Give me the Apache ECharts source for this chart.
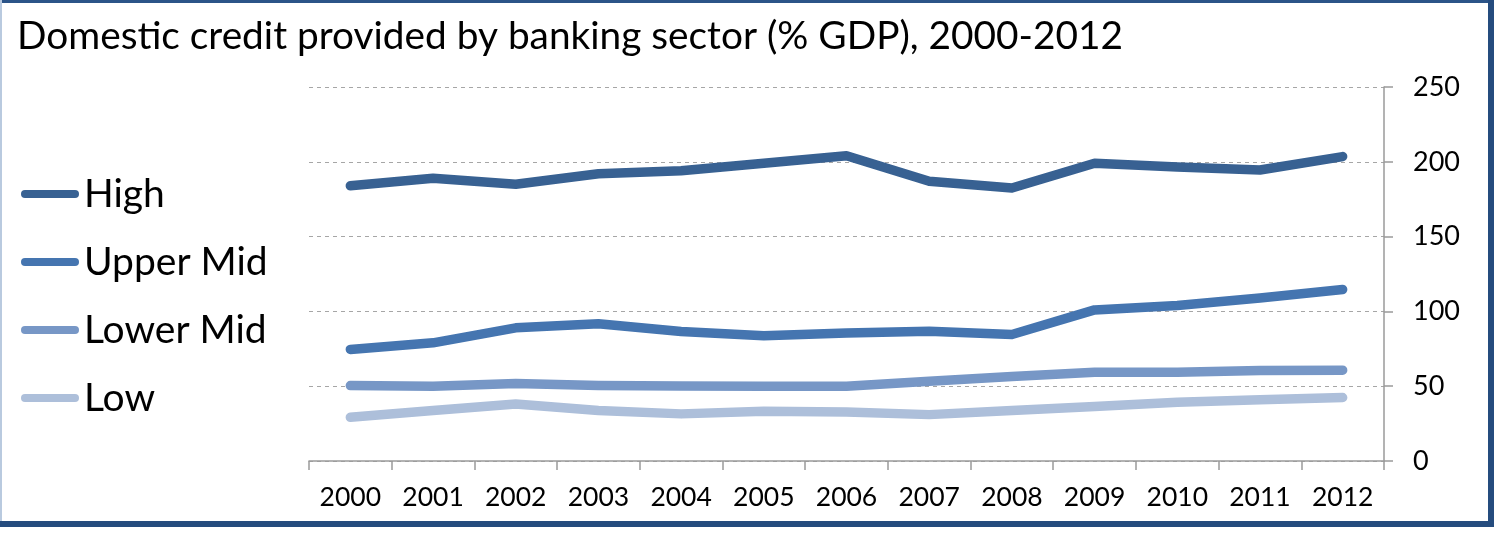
<!DOCTYPE html>
<html>
<head>
<meta charset="utf-8">
<style>
  html, body { margin: 0; padding: 0; background: #ffffff; }
  #chart { width: 1499px; height: 534px; }
</style>
<script src="https://cdn.jsdelivr.net/npm/echarts@6/dist/echarts.min.js"></script>
</head>
<body>
<div id="chart"></div>
<script>
// Domestic credit provided by banking sector (% of GDP), by income group
const years = ['2000', '2001', '2002', '2003', '2004', '2005', '2006', '2007', '2008', '2009', '2010', '2011', '2012'];
const high      = [184, 189, 185, 192, 194, 199, 204, 187, 182.5, 199, 196.5, 194.5, 203.5];
const upperMid  = [74.6, 79, 89, 91.7, 86.6, 83.7, 85.5, 86.8, 84.6, 101, 104, 109, 114.7];
const lowerMid  = [50.4, 50, 51.8, 50.4, 50.2, 50, 50, 53.3, 56.5, 59.4, 59.4, 60.5, 60.7];
const low       = [29.2, 33.7, 38.1, 33.7, 31.5, 33.3, 32.8, 31, 33.7, 36.4, 39.3, 41, 42.4];
const seriesNames = ['High', 'Upper Mid', 'Lower Mid', 'Low'];
const yTicks = { min: 0, max: 250, interval: 50 };

const FONT = 'Lato, "Open Sans", sans-serif';
const colors = ['#386192', '#4575B0', '#7797C6', '#ADBFDA'];
const pill = 'path://M4,0 H54 A4,4 0 0 1 54,8 H4 A4,4 0 0 1 4,0 Z';

function lineSeries(name, data, color) {
  return {
    name: name,
    type: 'line',
    data: data,
    symbol: 'none',
    showSymbol: false,
    smooth: false,
    lineStyle: { color: color, width: 9.5, cap: 'round', join: 'round' },
    itemStyle: { color: color },
    emphasis: { disabled: true }
  };
}

const chart = echarts.init(document.getElementById('chart'), null, { renderer: 'canvas' });
chart.setOption({
  animation: false,
  backgroundColor: '#ffffff',
  title: {
    text: 'Domestic credit provided by banking sector (% GDP), 2000-2012',
    left: 17,
    top: 17,
    padding: 0,
    textStyle: { fontFamily: FONT, fontSize: 38.8, fontWeight: 'normal', color: '#000000' }
  },
  legend: {
    orient: 'vertical',
    left: 21,
    top: 174,
    padding: 0,
    itemWidth: 58,
    itemHeight: 8,
    itemGap: 28,
    icon: pill,
    data: seriesNames,
    textStyle: { fontFamily: FONT, fontSize: 39, color: '#000000', lineHeight: 40 },
    selectedMode: false
  },
  grid: { left: 309, right: 115, top: 87, bottom: 73, containLabel: false },
  xAxis: {
    type: 'category',
    data: years,
    boundaryGap: true,
    axisLine: { lineStyle: { color: '#9A9A9A', width: 1.5 } },
    axisTick: { show: true, length: 9, lineStyle: { color: '#9A9A9A', width: 1.5 } },
    axisLabel: { fontFamily: FONT, fontSize: 26.5, color: '#000000', margin: 23 },
    splitLine: { show: false }
  },
  yAxis: {
    type: 'value',
    position: 'right',
    min: yTicks.min,
    max: yTicks.max,
    interval: yTicks.interval,
    axisLine: { show: true, lineStyle: { color: '#9A9A9A', width: 1.5 } },
    axisTick: { show: true, length: 9, lineStyle: { color: '#9A9A9A', width: 1.5 } },
    axisLabel: { fontFamily: FONT, fontSize: 27, color: '#000000', margin: 29, align: 'left' },
    splitLine: { show: true, lineStyle: { color: '#A6A6A6', width: 1, type: [4, 4] } }
  },
  series: [
    lineSeries('High', high, colors[0]),
    lineSeries('Upper Mid', upperMid, colors[1]),
    lineSeries('Lower Mid', lowerMid, colors[2]),
    lineSeries('Low', low, colors[3])
  ],
  graphic: [
    { type: 'rect', shape: { x: 0, y: 0, width: 1494, height: 3 }, style: { fill: '#2B5488' }, silent: true },
    { type: 'rect', shape: { x: 0, y: 0, width: 2, height: 527 }, style: { fill: '#B9CADF' }, silent: true },
    { type: 'rect', shape: { x: 1488, y: 0, width: 6, height: 527 }, style: { fill: '#254C7E' }, silent: true },
    { type: 'rect', shape: { x: 0, y: 521, width: 1494, height: 6 }, style: { fill: '#254C7E' }, silent: true }
  ]
});
</script>
</body>
</html>
